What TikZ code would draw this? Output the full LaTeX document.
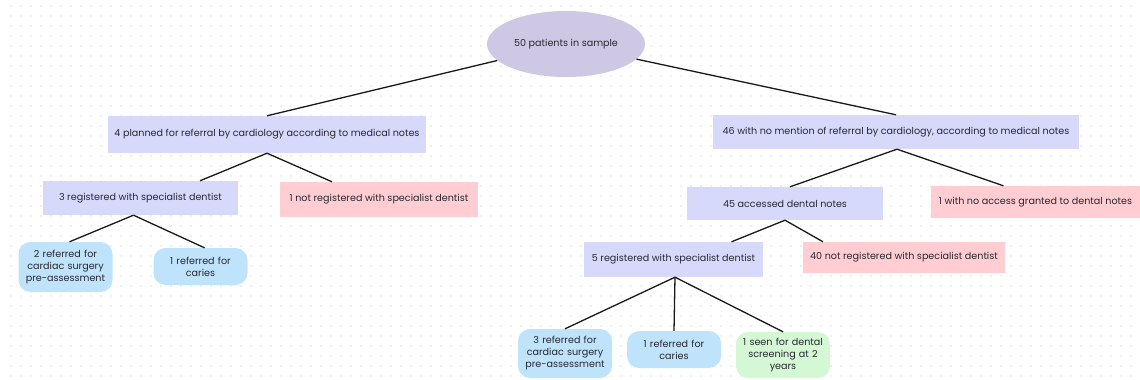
\documentclass[tikz,border=0pt]{standalone}
\usepackage{fontspec}
\setmainfont{Poppins}
\usetikzlibrary{shapes.geometric}
\definecolor{rootc}{RGB}{207,200,228}
\definecolor{boxc}{RGB}{215,217,251}
\definecolor{pinkc}{RGB}{255,205,210}
\definecolor{leafc}{RGB}{190,227,250}
\definecolor{greenc}{RGB}{211,248,211}
\definecolor{dotc}{RGB}{226,226,226}
\definecolor{txtc}{RGB}{40,40,50}
\definecolor{linec}{RGB}{25,25,25}
\tikzset{
  base/.style={inner sep=0pt, text=txtc, font=\fontsize{9.6}{12}\selectfont, align=center},
  rootnode/.style={base, ellipse, fill=rootc, minimum width=158pt, minimum height=66pt},
  midbox/.style={base, rectangle, fill=boxc},
  redbox/.style={base, rectangle, fill=pinkc},
  leafbox/.style={base, rectangle, rounded corners=12pt, fill=leafc, text width=92pt, minimum width=94pt},
  greenbox/.style={leafbox, fill=greenc},
  conn/.style={draw=linec, line width=1.3pt}
}
\begin{document}
\begin{tikzpicture}[x=1pt,y=-1pt]
\useasboundingbox (0,0) rectangle (1140,380);
\fill[white] (0,0) rectangle (1140,380);
\foreach \i in {0,...,113} {
  \foreach \j in {0,...,37} {
    \fill[dotc] ({11+10*\i},{6+10*\j}) circle (0.9pt);
  }
}
\node[rootnode] (root) at (566,44) {50 patients in sample};
\node[midbox, minimum width=318pt, minimum height=37pt] (A) at (267,134.5) {4 planned for referral by cardiology according to medical notes};
\node[midbox, minimum width=195pt, minimum height=34pt] (A1) at (140.5,198) {3 registered with specialist dentist};
\node[redbox, minimum width=198pt, minimum height=35pt] (A2) at (379,199.5) {1 not registered with specialist dentist};
\node[leafbox, minimum height=50pt] (A1a) at (65.5,267) {2 referred for\\cardiac surgery\\pre-assessment};
\node[leafbox, minimum height=37pt] (A1b) at (200.5,266.5) {1 referred for\\caries};
\node[midbox, minimum width=366pt, minimum height=34pt] (B) at (896,132) {46 with no mention of referral by cardiology, according to medical notes};
\node[midbox, minimum width=196pt, minimum height=33pt] (B1) at (785,203.5) {45 accessed dental notes};
\node[redbox, minimum width=209pt, minimum height=32pt] (B2) at (1035.5,202) {1 with no access granted to dental notes};
\node[midbox, minimum width=179pt, minimum height=35pt] (B1a) at (673.5,259.5) {5 registered with specialist dentist};
\node[redbox, minimum width=202pt, minimum height=31pt] (B1b) at (904,257.5) {40 not registered with specialist dentist};
\node[leafbox, minimum height=49pt] (B1a1) at (565,353.5) {3 referred for\\cardiac surgery\\pre-assessment};
\node[leafbox, minimum height=37pt] (B1a2) at (674,349.5) {1 referred for\\caries};
\node[greenbox, minimum height=46pt] (B1a3) at (783,355) {1 seen for dental\\screening at 2\\years};
\draw[conn] (root) -- (A.north);
\draw[conn] (root) -- (B.north);
\draw[conn] (A.south) -- ([xshift=59.5pt]A1.north);
\draw[conn] (A.south) -- ([xshift=-47pt]A2.north);
\draw[conn] ([xshift=-7pt]A1.south) -- ([xshift=4pt]A1a.north);
\draw[conn] ([xshift=-7pt]A1.south) -- ([xshift=4pt]A1b.north);
\draw[conn] ([xshift=1pt]B.south) -- ([xshift=5pt]B1.north);
\draw[conn] ([xshift=1pt]B.south) -- ([xshift=-32pt]B2.north);
\draw[conn] (B1.south) -- ([xshift=58pt]B1a.north);
\draw[conn] (B1.south) -- ([xshift=-81pt]B1b.north);
\draw[conn] ([xshift=1.5pt]B1a.south) -- (B1a1.north);
\draw[conn] ([xshift=1.5pt]B1a.south) -- (B1a2.north);
\draw[conn] ([xshift=1.5pt]B1a.south) -- (B1a3.north);
\end{tikzpicture}
\end{document}
